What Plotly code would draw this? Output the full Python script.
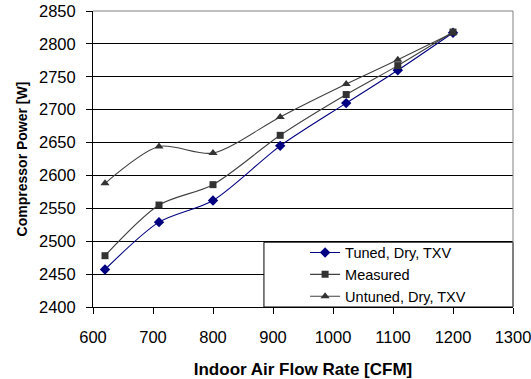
import plotly.graph_objects as go

flow = [620, 710, 800, 912, 1022, 1108, 1200]
tuned = [2457, 2529, 2562, 2645, 2710, 2760, 2817]
measured = [2478, 2555, 2586, 2661, 2723, 2767, 2818]
untuned = [2588, 2644, 2634, 2689, 2739, 2776, 2817]

font = "Liberation Sans, Arial, sans-serif"

fig = go.Figure()
fig.add_trace(go.Scatter(x=flow, y=tuned, name="Tuned, Dry, TXV", mode="lines+markers",
                         line=dict(color="#000080", width=1.1, shape="spline", smoothing=0.8),
                         marker=dict(symbol="diamond", size=8, color="#000080")))
fig.add_trace(go.Scatter(x=flow, y=measured, name="Measured", mode="lines+markers",
                         line=dict(color="#404040", width=1.1, shape="spline", smoothing=0.8),
                         marker=dict(symbol="square", size=7, color="#333333")))
fig.add_trace(go.Scatter(x=flow, y=untuned, name="Untuned, Dry, TXV", mode="lines+markers",
                         line=dict(color="#404040", width=1.1, shape="spline", smoothing=0.8),
                         marker=dict(symbol="triangle-up", size=8, color="#333333")))

fig.update_layout(
    width=531, height=379,
    margin=dict(l=93, r=18, t=11, b=72),
    paper_bgcolor="white", plot_bgcolor="white",
    font=dict(family=font, size=16, color="black"),
    showlegend=True,
    legend=dict(x=0.505, y=0.238, xanchor="left", yanchor="top",
                bgcolor="rgba(0,0,0,0)", borderwidth=0,
                font=dict(size=14.5), tracegroupgap=0, itemwidth=30),
    shapes=[
        dict(type="rect", xref="paper", yref="paper", x0=0.407, x1=1, y0=0, y1=0.219,
             line=dict(color="black", width=1), fillcolor="white", layer="above"),
        dict(type="line", xref="paper", yref="paper", x0=0, x1=1, y0=1, y1=1,
             line=dict(color="#808080", width=1), layer="above"),
        dict(type="line", xref="paper", yref="paper", x0=1, x1=1, y0=0, y1=1,
             line=dict(color="#808080", width=1), layer="above"),
    ],
)
fig.update_xaxes(range=[600, 1300], dtick=100, tick0=600, showgrid=False,
                 showline=True, linecolor="black", linewidth=1,
                 ticks="outside", ticklen=6, tickcolor="black",
                 tickfont=dict(size=16.5), ticklabelstandoff=9,
                 ticklabeloverflow="allow", automargin=False,
                 title=dict(text="<b>Indoor Air Flow Rate [CFM]</b>", font=dict(size=17), standoff=22),
                 zeroline=False)
fig.update_yaxes(range=[2400, 2850], dtick=50, tick0=2400, showgrid=True,
                 gridcolor="black", gridwidth=1,
                 showline=True, linecolor="black", linewidth=1,
                 ticks="outside", ticklen=6, tickcolor="black",
                 tickfont=dict(size=16.5), ticklabelstandoff=7,
                 ticklabeloverflow="allow", automargin=False,
                 title=dict(text="<b>Compressor Power [W]</b>", font=dict(size=14), standoff=8),
                 zeroline=False)

fig.write_html("out.html")
